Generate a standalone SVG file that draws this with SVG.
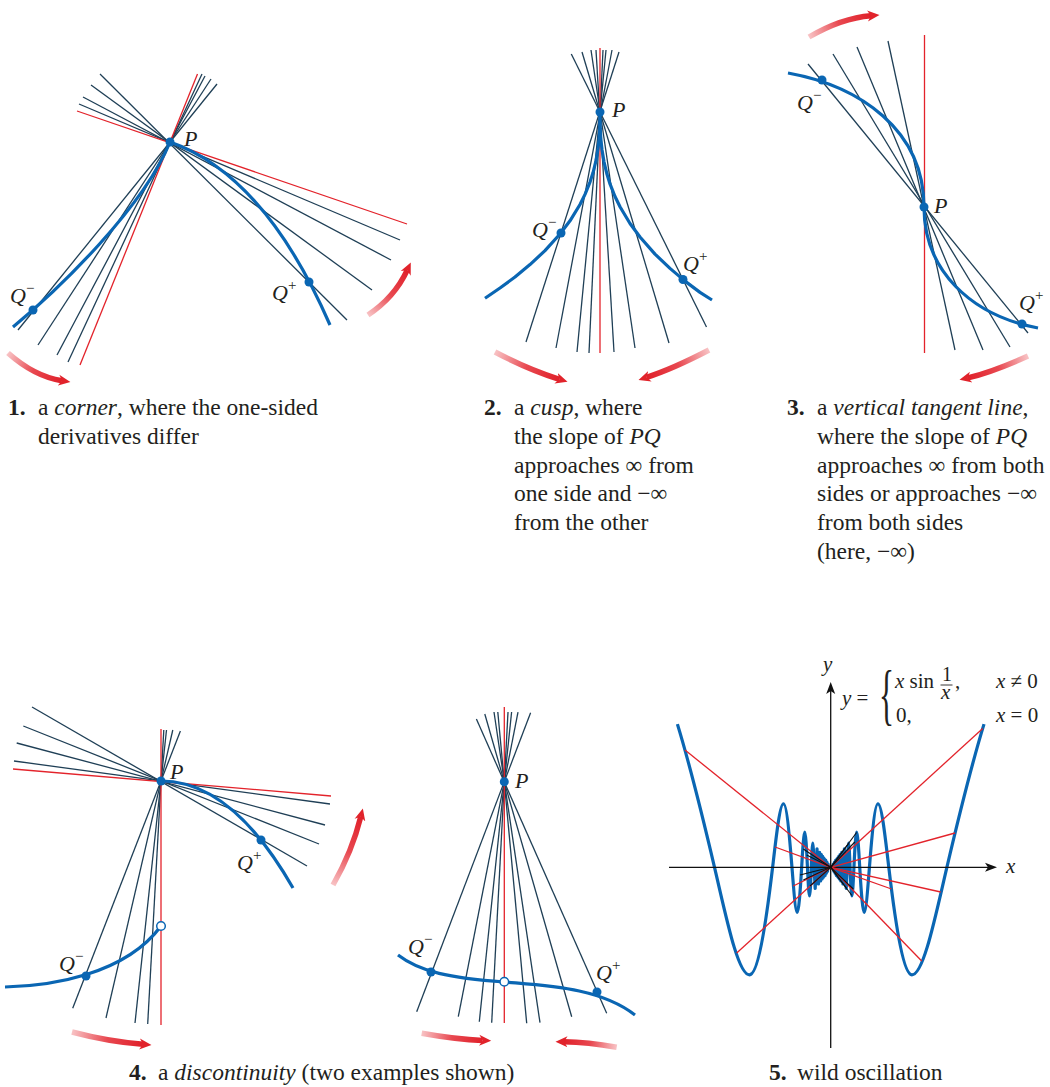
<svg xmlns="http://www.w3.org/2000/svg" xmlns:xlink="http://www.w3.org/1999/xlink" width="1050" height="1087" viewBox="0 0 1050 1087">
<style>
.dk{stroke:#1f3f56;stroke-width:1.3;fill:none}
.rd{stroke:#e3232b;stroke-width:1.3;fill:none}
.bk{stroke:#111;stroke-width:1.1;fill:none}
.cv{stroke:#0a66b3;stroke-width:3.2;fill:none;stroke-linejoin:round;stroke-linecap:butt}
.dot{fill:#0a66b3}
.open{fill:#fff;stroke:#0a66b3;stroke-width:1.5}
.arr{fill:none;stroke-width:5.5;marker-end:url(#ah)}
.ax{stroke:#111;stroke-width:1.3;fill:none}
text{font-family:"Liberation Serif","Times New Roman",serif;fill:#231f20}
.cap{font-size:23.5px}
.num{font-weight:bold}
.it{font-style:italic}
.lab{font-size:22px;font-style:italic}
.sup{font-size:15px;font-style:normal}
.fm{font-size:21px}
.fm19{font-size:20px}
.brace{font-size:67px}
</style>
<defs>
<marker id="ah" markerUnits="userSpaceOnUse" markerWidth="14" markerHeight="14" refX="3.5" refY="7" orient="auto" viewBox="0 0 14 14"><path d="M0,1.5 L12,7 L0,12.5 L3.5,7 z" fill="#e1232b"/></marker>
<marker id="axh" markerUnits="userSpaceOnUse" markerWidth="14" markerHeight="12" refX="9" refY="6" orient="auto" viewBox="0 0 14 12"><path d="M0,1.5 L12,6 L0,10.5 L3,6 z" fill="#111"/></marker>
<linearGradient id="g1" gradientUnits="userSpaceOnUse" x1="8" y1="353" x2="62" y2="380.7"><stop offset="0" stop-color="#f8c3c5"/><stop offset="0.5" stop-color="#e84850"/><stop offset="1" stop-color="#e0202a"/></linearGradient>
<linearGradient id="g2" gradientUnits="userSpaceOnUse" x1="368" y1="315" x2="407.2" y2="270.2"><stop offset="0" stop-color="#f8c3c5"/><stop offset="0.5" stop-color="#e84850"/><stop offset="1" stop-color="#e0202a"/></linearGradient>
<linearGradient id="g3" gradientUnits="userSpaceOnUse" x1="495" y1="352" x2="559.4" y2="379.3"><stop offset="0" stop-color="#f8c3c5"/><stop offset="0.5" stop-color="#e84850"/><stop offset="1" stop-color="#e0202a"/></linearGradient>
<linearGradient id="g4" gradientUnits="userSpaceOnUse" x1="709" y1="350" x2="646.6" y2="377.3"><stop offset="0" stop-color="#f8c3c5"/><stop offset="0.5" stop-color="#e84850"/><stop offset="1" stop-color="#e0202a"/></linearGradient>
<linearGradient id="g5" gradientUnits="userSpaceOnUse" x1="809" y1="37" x2="871" y2="15.7"><stop offset="0" stop-color="#f8c3c5"/><stop offset="0.5" stop-color="#e84850"/><stop offset="1" stop-color="#e0202a"/></linearGradient>
<linearGradient id="g6" gradientUnits="userSpaceOnUse" x1="1028" y1="356" x2="967.8" y2="377.9"><stop offset="0" stop-color="#f8c3c5"/><stop offset="0.5" stop-color="#e84850"/><stop offset="1" stop-color="#e0202a"/></linearGradient>
<linearGradient id="g7" gradientUnits="userSpaceOnUse" x1="72" y1="1032" x2="143" y2="1044.3"><stop offset="0" stop-color="#f8c3c5"/><stop offset="0.5" stop-color="#e84850"/><stop offset="1" stop-color="#e0202a"/></linearGradient>
<linearGradient id="g8" gradientUnits="userSpaceOnUse" x1="333" y1="885" x2="360.8" y2="816.7"><stop offset="0" stop-color="#f8c3c5"/><stop offset="0.5" stop-color="#e84850"/><stop offset="1" stop-color="#e0202a"/></linearGradient>
<linearGradient id="g9" gradientUnits="userSpaceOnUse" x1="421.7" y1="1033.3" x2="482.7" y2="1040.4"><stop offset="0" stop-color="#f8c3c5"/><stop offset="0.5" stop-color="#e84850"/><stop offset="1" stop-color="#e0202a"/></linearGradient>
<linearGradient id="g10" gradientUnits="userSpaceOnUse" x1="616.7" y1="1047.3" x2="564" y2="1041.8"><stop offset="0" stop-color="#f8c3c5"/><stop offset="0.5" stop-color="#e84850"/><stop offset="1" stop-color="#e0202a"/></linearGradient>
<path id="oscR" d="M984,724.1 C971.63,764.6 959.25,814.6 946.88,867.3 C935.23,916.9 923.58,974.83 911.93,974.83 C904.22,974.83 896.5,933 888.79,867.3 C885.18,836.5 881.56,803.76 877.95,803.76 C875.11,803.76 872.27,831 869.43,867.3 C867.68,889.7 865.92,912.51 864.17,912.51 C862.7,912.51 861.22,892.4 859.75,867.3 C858.72,849.7 857.68,832.2 856.65,832.2 C855.75,832.2 854.84,848.1 853.94,867.3 C853.26,881.8 852.58,896 851.9,896 C851.29,896 850.67,883 850.06,867.3 C849.58,855.03 849.1,843.03 848.62,843.03 C848.18,843.03 847.74,854.2 847.3,867.3 L846.22,888.33 L845.22,867.3 L844.39,848.75 L843.61,867.3 L842.94,883.9 L842.32,867.3 L841.77,852.28 L841.26,867.3 L840.81,881.01 L840.38,867.3 L840,854.69 L839.64,867.3 L839.31,878.98 L839,867.3 L838.72,856.43 L838.45,867.3 L838.2,877.47 L837.96,867.3 L837.75,857.75 L837.53,867.3 L837.34,876.3 L837.15,867.3 L836.98,858.78 L836.6,867.3 L836.3,875.5 L836,867.3 L835.7,860 L835.4,867.3 L835.1,873.5 L834.8,867.3 L834.5,862 L834.2,867.3 L833.9,871.5 L833.6,867.3 L833.3,864 L833,867.3 L830.7,867.3"/>
</defs>
<rect width="1050" height="1087" fill="#fff"/>

<g id="panel1">
<g id="p1-lines">
<line class="dk" x1="18" y1="330" x2="217" y2="84"/>
<line class="dk" x1="38" y1="345" x2="211" y2="79"/>
<line class="dk" x1="57" y1="355" x2="205" y2="76"/>
<line class="dk" x1="68" y1="362" x2="202" y2="74"/>
<line class="rd" x1="80" y1="365" x2="197.5" y2="74"/>
<line class="dk" x1="79" y1="104" x2="400" y2="240"/>
<line class="dk" x1="83" y1="97" x2="391" y2="260"/>
<line class="dk" x1="91" y1="85" x2="372" y2="290"/>
<line class="dk" x1="100" y1="74" x2="347" y2="320"/>
<line class="rd" x1="77" y1="111" x2="407" y2="224"/>
</g>
<path class="cv" d="M13,327 C60,288 143.8,206.9 170,142"/>
<path class="cv" d="M170,142 Q264.5,174.7 330,325"/>
<circle class="dot" cx="170" cy="142" r="4.5"/>
<circle class="dot" cx="33" cy="310" r="4.5"/>
<circle class="dot" cx="309" cy="282" r="4.5"/>
<text class="lab" x="184" y="146">P</text>
<text class="lab" x="10" y="303">Q<tspan class="sup" dy="-10">−</tspan></text>
<text class="lab" x="272" y="300">Q<tspan class="sup" dy="-10">+</tspan></text>
<path class="arr" stroke="url(#g1)" d="M8,353 Q34.5,376.5 62,380.7"/>
<path class="arr" stroke="url(#g2)" d="M368,315 Q394.5,297.5 407.2,270.2"/>
</g>

<g id="panel2">
<g id="p2-lines">
<line class="dk" x1="526" y1="342" x2="619" y2="52"/>
<line class="dk" x1="556" y1="348" x2="612" y2="50"/>
<line class="dk" x1="577" y1="352" x2="606" y2="50"/>
<line class="dk" x1="589" y1="353" x2="603" y2="50"/>
<line class="dk" x1="614" y1="352" x2="596" y2="50"/>
<line class="dk" x1="635" y1="348" x2="591" y2="50"/>
<line class="dk" x1="669" y1="343" x2="582" y2="52"/>
<line class="dk" x1="706.5" y1="327" x2="571.3" y2="54"/>
<line class="rd" x1="600" y1="353" x2="600" y2="48"/>
</g>
<path class="cv" d="M485,298.2 L500,288 L515,277 L530,264.6 L545,250.6 L560,234 L570,220.8 L580,204.5 L585,194.4 L590,182.1 L593,172.8 L596,160.6 L598,148.8 L599,139.9 L599.5,133.1 L599.75,128 L600,112 L600.25,128.4 L600.5,133.6 L601,140.6 L602,149.7 L604,161.8 L607,174.3 L610,183.9 L615,196.5 L620,206.8 L630,223.5 L640,237 L655,254.1 L670,268.4 L685,281.1 L700,292.4 L712,300"/>
<circle class="dot" cx="600" cy="112" r="4.5"/>
<circle class="dot" cx="561" cy="233" r="4.5"/>
<circle class="dot" cx="683" cy="279.5" r="4.5"/>
<text class="lab" x="612" y="117">P</text>
<text class="lab" x="532" y="237">Q<tspan class="sup" dy="-10">−</tspan></text>
<text class="lab" x="683" y="271">Q<tspan class="sup" dy="-10">+</tspan></text>
<path class="arr" stroke="url(#g3)" d="M495,352 Q528.5,369.6 559.4,379.3"/>
<path class="arr" stroke="url(#g4)" d="M709,350 Q672.5,369 646.6,377.3"/>
</g>

<g id="panel3">
<g id="p3-lines">
<line class="dk" x1="808" y1="64" x2="1028" y2="333"/>
<line class="dk" x1="833" y1="54" x2="1010" y2="347"/>
<line class="dk" x1="857" y1="47" x2="983" y2="350"/>
<line class="dk" x1="888" y1="41" x2="955" y2="350"/>
<line class="rd" x1="924.5" y1="35" x2="924.5" y2="353"/>
</g>
<path class="cv" d="M788,73 C860,86 924,130 924,207 C924,270 970,315 1038,328"/>
<circle class="dot" cx="924" cy="207" r="4.5"/>
<circle class="dot" cx="822" cy="80" r="4.5"/>
<circle class="dot" cx="1022" cy="324" r="4.5"/>
<text class="lab" x="934" y="213">P</text>
<text class="lab" x="797" y="110">Q<tspan class="sup" dy="-10">−</tspan></text>
<text class="lab" x="1019" y="310">Q<tspan class="sup" dy="-10">+</tspan></text>
<path class="arr" stroke="url(#g5)" d="M809,37 Q841.5,18 871,15.7"/>
<path class="arr" stroke="url(#g6)" d="M1028,356 Q992.5,372 967.8,377.9"/>
</g>

<g id="panel4a">
<g id="p4a-lines">
<line class="dk" x1="72.7" y1="1008.3" x2="180.4" y2="731"/>
<line class="dk" x1="106" y1="1018" x2="172.8" y2="730"/>
<line class="dk" x1="135" y1="1023" x2="166.5" y2="730"/>
<line class="dk" x1="147.7" y1="1024" x2="163.8" y2="730"/>
<line class="rd" x1="161" y1="729" x2="161" y2="1025"/>
<line class="dk" x1="32" y1="707" x2="307" y2="866"/>
<line class="dk" x1="23.3" y1="726" x2="319" y2="844"/>
<line class="dk" x1="16.7" y1="743" x2="325" y2="825"/>
<line class="dk" x1="14" y1="761" x2="330" y2="804"/>
<line class="rd" x1="13" y1="769" x2="331" y2="796"/>
</g>
<path class="cv" d="M161,781 Q232,781 293,888"/>
<path class="cv" d="M5,987 C50,986 125,975 161,926"/>
<circle class="dot" cx="161" cy="781" r="4.5"/>
<circle class="dot" cx="261" cy="840" r="4.5"/>
<circle class="dot" cx="86" cy="976" r="4.5"/>
<circle class="open" cx="161" cy="926" r="4.3"/>
<text class="lab" x="170" y="779">P</text>
<text class="lab" x="237" y="870">Q<tspan class="sup" dy="-10">+</tspan></text>
<text class="lab" x="59" y="971">Q<tspan class="sup" dy="-10">−</tspan></text>
<path class="arr" stroke="url(#g7)" d="M72,1032 Q108,1041.5 143,1044.3"/>
<path class="arr" stroke="url(#g8)" d="M333,885 Q352,852 360.8,816.7"/>
</g>

<g id="panel4b">
<g id="p4b-lines">
<line class="dk" x1="416.7" y1="1011.7" x2="530.6" y2="712.7"/>
<line class="dk" x1="458.3" y1="1016.7" x2="518" y2="712"/>
<line class="dk" x1="479.3" y1="1021.7" x2="511.6" y2="712"/>
<line class="dk" x1="491.7" y1="1022.7" x2="508" y2="712"/>
<line class="dk" x1="526.7" y1="1023.3" x2="497.8" y2="712"/>
<line class="dk" x1="540" y1="1022.7" x2="494" y2="712"/>
<line class="dk" x1="571.7" y1="1016.7" x2="484.8" y2="714"/>
<line class="dk" x1="606.7" y1="1013.3" x2="476.4" y2="719"/>
<line class="rd" x1="504.3" y1="707" x2="504.3" y2="1023"/>
</g>
<path class="cv" d="M398,955 C420,972 450,978 504.3,982 C550,986 600,988 635,1015"/>
<circle class="dot" cx="504.3" cy="781.7" r="4.5"/>
<circle class="dot" cx="431" cy="972" r="4.5"/>
<circle class="dot" cx="597" cy="992" r="4.5"/>
<circle class="open" cx="504.3" cy="981.7" r="4.3"/>
<text class="lab" x="515" y="788">P</text>
<text class="lab" x="408" y="954">Q<tspan class="sup" dy="-10">−</tspan></text>
<text class="lab" x="596" y="980">Q<tspan class="sup" dy="-10">+</tspan></text>
<path class="arr" stroke="url(#g9)" d="M421.7,1033.3 Q456.7,1039.6 482.7,1040.4"/>
<path class="arr" stroke="url(#g10)" d="M616.7,1047.3 Q587.5,1042 564,1041.8"/>
</g>

<g id="panel5">
<use xlink:href="#oscR" class="cv" stroke-width="3.5"/>
<use xlink:href="#oscR" class="cv" stroke-width="3.5" transform="matrix(-1 0 0 1 1661.4 0)"/>
<polygon points="830.7,867.3 836.5,859.5 836.5,875.1" fill="#0a66b3"/>
<polygon points="830.7,867.3 824.9,859.5 824.9,875.1" fill="#0a66b3"/>
<line class="ax" x1="830.7" y1="1048" x2="830.7" y2="685" marker-end="url(#axh)"/>
<line class="ax" x1="669" y1="867.3" x2="994" y2="867.3" marker-end="url(#axh)"/>
<g id="p5-secants">
<line class="rd" x1="830.7" y1="867.3" x2="982.7" y2="728.5"/>
<line class="rd" x1="830.7" y1="867.3" x2="955" y2="833"/>
<line class="rd" x1="830.7" y1="867.3" x2="940.7" y2="892"/>
<line class="rd" x1="830.7" y1="867.3" x2="891.5" y2="889"/>
<line class="rd" x1="830.7" y1="867.3" x2="921.7" y2="961"/>
<line class="rd" x1="830.7" y1="867.3" x2="685" y2="750"/>
<line class="rd" x1="830.7" y1="867.3" x2="775" y2="847"/>
<line class="rd" x1="830.7" y1="867.3" x2="736.7" y2="953"/>
<line class="rd" x1="830.7" y1="867.3" x2="793.3" y2="886"/>
<line class="bk" x1="830.7" y1="867.3" x2="856.6" y2="832.5"/>
<line class="bk" x1="830.7" y1="867.3" x2="854.8" y2="842"/>
<line class="bk" x1="830.7" y1="867.3" x2="848.6" y2="843.5"/>
<line class="bk" x1="830.7" y1="867.3" x2="851.9" y2="895.5"/>
<line class="bk" x1="830.7" y1="867.3" x2="853.3" y2="889"/>
<line class="bk" x1="830.7" y1="867.3" x2="846.3" y2="888"/>
<line class="bk" x1="830.7" y1="867.3" x2="803.3" y2="849"/>
<line class="bk" x1="830.7" y1="867.3" x2="806.7" y2="855"/>
<line class="bk" x1="830.7" y1="867.3" x2="800" y2="875"/>
<line class="bk" x1="830.7" y1="867.3" x2="803.3" y2="880"/>
<line class="bk" x1="830.7" y1="867.3" x2="810" y2="886"/>
</g>
<text class="fm it" x="823" y="671">y</text>
<text class="fm it" x="1006" y="873">x</text>
<text class="fm" x="842" y="705"><tspan class="it">y</tspan> =</text>
<text class="brace" transform="translate(879,717) scale(0.47,1)">{</text>
<text class="fm" x="895" y="687.5"><tspan class="it">x</tspan> sin</text>
<text class="fm19" x="942" y="681">1</text>
<line x1="940.5" y1="685" x2="952.5" y2="685" stroke="#231f20" stroke-width="0.9"/>
<text class="fm it" x="941" y="699">x</text>
<text class="fm" x="955" y="687.5">,</text>
<text class="fm" x="996" y="688"><tspan class="it">x</tspan> ≠ 0</text>
<text class="fm" x="896" y="721.5">0,</text>
<text class="fm" x="996" y="722"><tspan class="it">x</tspan> = 0</text>
</g>

<g id="captions">
<text class="cap num" x="8" y="415">1.</text>
<text class="cap" x="38" y="415">a <tspan class="it">corner</tspan>, where the one-sided</text>
<text class="cap" x="38" y="444">derivatives differ</text>
<text class="cap num" x="484" y="415">2.</text>
<text class="cap" x="514" y="415">a <tspan class="it">cusp</tspan>, where</text>
<text class="cap" x="514" y="444">the slope of <tspan class="it">PQ</tspan></text>
<text class="cap" x="514" y="472.5">approaches ∞ from</text>
<text class="cap" x="514" y="501">one side and −∞</text>
<text class="cap" x="514" y="530">from the other</text>
<text class="cap num" x="787" y="415">3.</text>
<text class="cap" x="817" y="415">a <tspan class="it">vertical tangent line</tspan>,</text>
<text class="cap" x="817" y="444">where the slope of <tspan class="it">PQ</tspan></text>
<text class="cap" x="817" y="472.5">approaches ∞ from both</text>
<text class="cap" x="817" y="501">sides or approaches −∞</text>
<text class="cap" x="817" y="530">from both sides</text>
<text class="cap" x="817" y="558.5">(here, −∞)</text>
<text class="cap num" x="129" y="1080">4.</text>
<text class="cap" x="158" y="1080">a <tspan class="it">discontinuity</tspan> (two examples shown)</text>
<text class="cap num" x="769" y="1080">5.</text>
<text class="cap" x="797" y="1080">wild oscillation</text>
</g>
</svg>
